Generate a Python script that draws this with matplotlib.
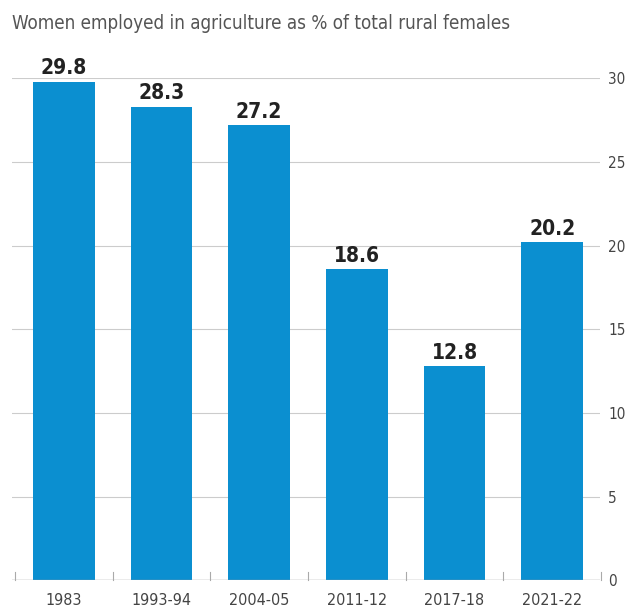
import matplotlib.pyplot as plt
import numpy as np

years  = ["1983", "1993-94", "2004-05", "2011-12", "2017-18", "2021-22"]
values = [29.8, 28.3, 27.2, 18.6, 12.8, 20.2]
yticks = [0, 5, 10, 15, 20, 25, 30]

plt.rcParams["font.family"] = ["DejaVu Sans"]
plt.rcParams["font.stretch"] = "condensed"

fig = plt.figure(figsize=(6.29, 6.16), dpi=100)
ax = fig.add_axes([0.019, 0.058, 0.935, 0.815])

x = np.arange(len(years))
bars = ax.bar(x, values, width=0.63, color="#0b8fd0", zorder=3)

for bar, val in zip(bars, values):
    ax.text(bar.get_x() + bar.get_width() / 2, val + 0.2, f"{val}",
            ha="center", va="bottom", fontsize=15, color="#222222",
            fontweight="semibold", fontstretch="condensed", clip_on=False)

ax.set_xlim(-0.53, 5.49)
ax.set_ylim(0, 30)

# horizontal grid
for t in yticks[1:]:
    ax.axhline(t, color="#cccccc", linewidth=0.8, zorder=1)
ax.axhline(0, color="#999999", linewidth=1, zorder=4)

# small separator ticks on baseline
for b in np.arange(-0.5, len(years), 1.0):
    ax.plot([b, b], [0, 0.5], color="#aaaaaa", linewidth=0.8, zorder=4, clip_on=False)

ax.yaxis.tick_right()
ax.set_yticks(yticks)
ax.set_yticklabels([str(t) for t in yticks], fontsize=11, color="#444444",
                   fontstretch="condensed")
ax.tick_params(axis="y", length=0, pad=6)
ax.set_xticks(x)
ax.set_xticklabels(years, fontsize=11.5, color="#444444", fontstretch="condensed")
ax.tick_params(axis="x", length=0, pad=9)

for s in ax.spines.values():
    s.set_visible(False)

fig.text(0.019, 0.962, "Women employed in agriculture as % of total rural females",
         fontsize=13.5, color="#555555", ha="left", va="center", fontstretch="condensed")

fig.savefig("out.png", dpi=100)
